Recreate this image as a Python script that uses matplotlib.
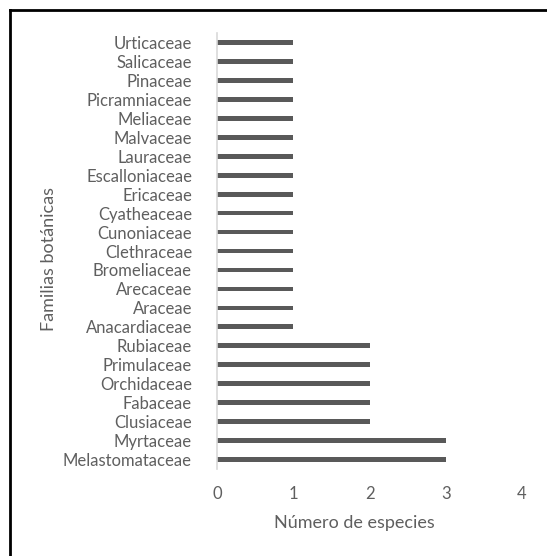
import matplotlib
matplotlib.use("Agg")
import matplotlib.pyplot as plt
from matplotlib.lines import Line2D

familias = [
    "Melastomataceae", "Myrtaceae", "Clusiaceae", "Fabaceae", "Orchidaceae",
    "Primulaceae", "Rubiaceae", "Anacardiaceae", "Araceae", "Arecaceae",
    "Bromeliaceae", "Clethraceae", "Cunoniaceae", "Cyatheaceae", "Ericaceae",
    "Escalloniaceae", "Lauraceae", "Malvaceae", "Meliaceae", "Picramniaceae",
    "Pinaceae", "Salicaceae", "Urticaceae",
]
especies = [3, 3, 2, 2, 2, 2, 2, 1, 1, 1, 1, 1, 1, 1, 1, 1, 1, 1, 1, 1, 1, 1, 1]
x_ticks = [0, 1, 2, 3, 4]

TXT = "#5f5f5f"
plt.rcParams["font.family"] = ["Lato", "DejaVu Sans"]

W, H = 547, 556
fig = plt.figure(figsize=(W / 100, H / 100), dpi=100)
ax = fig.add_axes([217 / W, 1 - 469 / H, (522 - 217) / W, (469 - 33) / H])

y = list(range(len(familias)))
ax.barh(y, especies, height=0.25, color="#595959", left=0)
ax.set_xlim(0, 4)
ax.set_ylim(-0.5, len(familias) - 0.5)
ax.set_yticks(y)
ax.set_yticklabels(familias, fontsize=12, color=TXT)
ax.set_xticks(x_ticks)
ax.set_xticklabels([str(t) for t in x_ticks], fontsize=12, color=TXT)
ax.tick_params(axis="both", length=0)
ax.tick_params(axis="y", pad=18)
ax.tick_params(axis="x", pad=12)
for s in ["top", "right", "bottom"]:
    ax.spines[s].set_visible(False)
ax.spines["left"].set_color("#d9d9d9")
ax.spines["left"].set_linewidth(1.2)

ax.set_xlabel("Número de especies", fontsize=13, color=TXT)
ax.xaxis.set_label_coords((354 - 217) / (522 - 217), -(523 - 469) / (469 - 33))
ax.xaxis.label.set_verticalalignment("center")
fig.text(49 / W, 1 - 259 / H, "Familias botánicas", rotation=90, fontsize=13,
         color=TXT, ha="center", va="center")

# outer frame
fig.add_artist(Line2D([10 / W, 10 / W], [0, 1 - 9.5 / H], transform=fig.transFigure,
                      color="black", linewidth=2))
fig.add_artist(Line2D([10 / W, 1], [1 - 9.5 / H, 1 - 9.5 / H], transform=fig.transFigure,
                      color="black", linewidth=2))

fig.savefig("out.png", dpi=100)
